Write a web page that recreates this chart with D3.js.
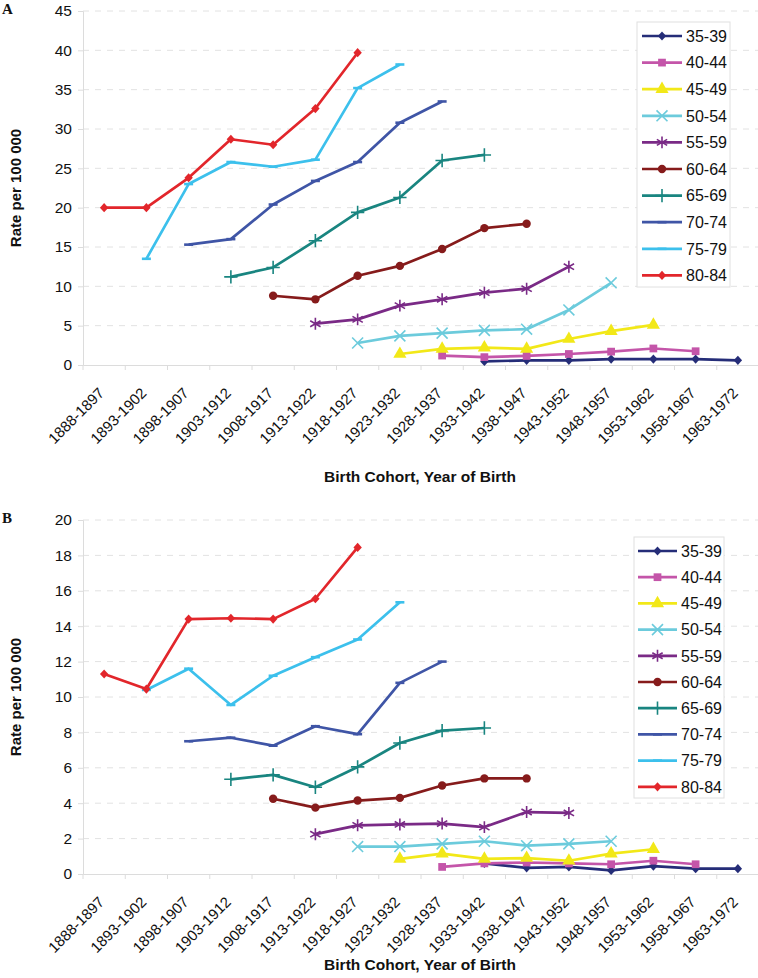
<!DOCTYPE html>
<html><head><meta charset="utf-8">
<script src="https://cdn.jsdelivr.net/npm/d3@7"></script>
<style>
body{margin:0;background:#fff;}
svg{display:block;font-family:"Liberation Sans",Arial,sans-serif;}
</style></head><body>
<svg id="chart" width="758" height="978"></svg>
<script>
const categories = ["1888-1897","1893-1902","1898-1907","1903-1912","1908-1917","1913-1922","1918-1927","1923-1932","1928-1937","1933-1942","1938-1947","1943-1952","1948-1957","1953-1962","1958-1967","1963-1972"];
const seriesNames = ["35-39","40-44","45-49","50-54","55-59","60-64","65-69","70-74","75-79","80-84"];
const seriesStart = [9,8,7,6,5,4,3,2,1,0];
const seriesColors = ["#252d78","#c455a9","#f2e818","#6ccbdc","#7a2a86","#861b1b","#198580","#3f55a6","#3cc0ec","#e2262b"];
const seriesMarkers = ["diamond","square","triangle","x","asterisk","circle","plus","dash","dash","diamond"];

// Panel A values (rate per 100 000), starting at seriesStart index
const a_35_39 = [0.45, 0.6, 0.6, 0.75, 0.75, 0.75, 0.6];
const a_40_44 = [1.2, 1.0, 1.15, 1.4, 1.7, 2.1, 1.75];
const a_45_49 = [1.4, 2.05, 2.2, 2.05, 3.3, 4.3, 5.1];
const a_50_54 = [2.8, 3.7, 4.05, 4.4, 4.55, 7.0, 10.45];
const a_55_59 = [5.25, 5.8, 7.55, 8.35, 9.2, 9.7, 12.5];
const a_60_64 = [8.8, 8.35, 11.35, 12.6, 14.75, 17.4, 17.95];
const a_65_69 = [11.2, 12.4, 15.8, 19.4, 21.3, 26.0, 26.7];
const a_70_74 = [15.3, 16.0, 20.4, 23.4, 25.8, 30.8, 33.5];
const a_75_79 = [13.5, 23.0, 25.8, 25.2, 26.1, 35.2, 38.2];
const a_80_84 = [20.0, 20.0, 23.8, 28.7, 28.0, 32.6, 39.7];

// Panel B values
const b_35_39 = [0.6, 0.35, 0.4, 0.2, 0.45, 0.3, 0.3];
const b_40_44 = [0.4, 0.6, 0.65, 0.6, 0.55, 0.75, 0.55];
const b_45_49 = [0.85, 1.15, 0.85, 0.9, 0.75, 1.15, 1.4];
const b_50_54 = [1.55, 1.55, 1.7, 1.85, 1.6, 1.7, 1.85];
const b_55_59 = [2.25, 2.75, 2.8, 2.85, 2.65, 3.5, 3.45];
const b_60_64 = [4.25, 3.75, 4.15, 4.3, 5.0, 5.4, 5.4];
const b_65_69 = [5.35, 5.6, 4.9, 6.05, 7.4, 8.1, 8.25];
const b_70_74 = [7.5, 7.7, 7.25, 8.35, 7.9, 10.8, 12.0];
const b_75_79 = [10.4, 11.6, 9.55, 11.2, 12.25, 13.25, 15.35];
const b_80_84 = [11.3, 10.45, 14.4, 14.45, 14.4, 15.55, 18.45];

const yTicksA = [0,5,10,15,20,25,30,35,40,45];
const yTicksB = [0,2,4,6,8,10,12,14,16,18,20];

const panelA = {label:"A", values:[a_35_39,a_40_44,a_45_49,a_50_54,a_55_59,a_60_64,a_65_69,a_70_74,a_75_79,a_80_84],
  yMax:45, yTicks:yTicksA, top:11, bottom:365, labelY:14, titleY:482, legend:{x:637,y:22,w:93,h:265,lx1:642,lx2:682,tx:686,iy:36,step:26.6}};
const panelB = {label:"B", values:[b_35_39,b_40_44,b_45_49,b_50_54,b_55_59,b_60_64,b_65_69,b_70_74,b_75_79,b_80_84],
  yMax:20, yTicks:yTicksB, top:520, bottom:874, labelY:523, titleY:970, legend:{x:634,y:537,w:90,h:261,lx1:638,lx2:677,tx:681,iy:551,step:26.2}};

const svg = d3.select("#chart");
const left = 83, right = 759;
const FONT = "Liberation Sans, Arial, sans-serif";

// custom symbol types
const symDiamond = {draw(ctx, s){ const h=4.6, w=4.2; ctx.moveTo(0,-h); ctx.lineTo(w,0); ctx.lineTo(0,h); ctx.lineTo(-w,0); ctx.closePath(); }};
const symDash = {draw(ctx, s){ ctx.moveTo(-4.5,0); ctx.lineTo(4.5,0); }};
function markerSpec(kind){
  switch(kind){
    case "diamond": return {type:symDiamond, size:1, fill:true};
    case "square": return {type:d3.symbolSquare, size:60, fill:true};
    case "triangle": return {type:d3.symbolTriangle, size:75, fill:true};
    case "circle": return {type:d3.symbolCircle, size:55, fill:true};
    case "x": return {type:d3.symbolX, size:80, fill:false};
    case "asterisk": return {type:d3.symbolAsterisk, size:100, fill:false};
    case "plus": return {type:d3.symbolPlus, size:60, fill:false};
    case "dash": return {type:symDash, size:1, fill:false};
  }
}
function drawMarker(g, kind, color, x, y){
  const m = markerSpec(kind);
  const p = g.append("path").attr("d", d3.symbol().type(m.type).size(m.size)()).attr("transform",`translate(${x},${y})`);
  if(m.fill) p.attr("fill",color).attr("stroke","none");
  else p.attr("fill","none").attr("stroke",color).attr("stroke-width", kind==="dash"?2.6:1.6);
}

function drawPanel(P){
  const g = svg.append("g");
  const x = d3.scaleBand().domain(categories).range([left,right]).paddingInner(0).paddingOuter(0);
  const y = d3.scaleLinear().domain([0,P.yMax]).range([P.bottom,P.top]);
  const cx = c => x(c) + x.bandwidth()/2;

  // gridlines
  g.append("g").selectAll("line").data(P.yTicks.filter(t=>t>0)).join("line")
    .attr("x1",left).attr("x2",right).attr("y1",d=>y(d)).attr("y2",d=>y(d))
    .attr("stroke","#e2e2e2").attr("stroke-width",1).attr("stroke-dasharray","6,6");

  // y axis
  const ya = g.append("g").attr("transform",`translate(${left},0)`).call(d3.axisLeft(y).tickValues(P.yTicks).tickSize(5).tickPadding(6));
  ya.select(".domain").attr("stroke","#dcdcdc");
  ya.selectAll(".tick line").attr("stroke","#dcdcdc");
  ya.selectAll(".tick text").attr("font-size","15.5px").attr("fill","#111").attr("font-family",FONT);

  // x axis
  const xa = g.append("g").attr("transform",`translate(0,${P.bottom})`).call(d3.axisBottom(x).tickSize(0).tickSizeOuter(0));
  xa.select(".domain").attr("stroke","#dcdcdc");
  xa.selectAll(".tick text").attr("font-size","15px").attr("fill","#111").attr("font-family",FONT)
    .attr("text-anchor","end").attr("dy",null).attr("y",null)
    .attr("transform","translate(1,29) rotate(-45)");
  // boundary ticks
  g.append("g").selectAll("line").data(d3.range(categories.length+1)).join("line")
    .attr("x1",i=>left+i*x.step()).attr("x2",i=>left+i*x.step())
    .attr("y1",P.bottom).attr("y2",P.bottom+5).attr("stroke","#dcdcdc");

  // series
  P.values.forEach((vals,si)=>{
    const pts = vals.map((v,k)=>({c:categories[seriesStart[si]+k], v}));
    const color = seriesColors[si];
    g.append("path").datum(pts)
      .attr("d", d3.line().x(d=>cx(d.c)).y(d=>y(d.v)))
      .attr("fill","none").attr("stroke",color).attr("stroke-width",2.7).attr("stroke-linejoin","round");
    pts.forEach(d=>drawMarker(g, seriesMarkers[si], color, cx(d.c), y(d.v)));
  });

  // legend
  const L = P.legend;
  g.append("rect").attr("x",L.x).attr("y",L.y).attr("width",L.w).attr("height",L.h)
    .attr("fill","#fff").attr("stroke","#e0e0e0");
  seriesNames.forEach((n,si)=>{
    const yy = L.iy + si*L.step;
    g.append("line").attr("x1",L.lx1).attr("x2",L.lx2).attr("y1",yy).attr("y2",yy)
      .attr("stroke",seriesColors[si]).attr("stroke-width",2.7);
    drawMarker(g, seriesMarkers[si], seriesColors[si], (L.lx1+L.lx2)/2, yy);
    g.append("text").attr("x",L.tx).attr("y",yy).attr("dy","0.36em").attr("font-size","16px").attr("font-family",FONT).attr("fill","#111").text(n);
  });

  // axis titles
  g.append("text").attr("x",420).attr("y",P.titleY).attr("text-anchor","middle").attr("font-family",FONT)
    .attr("font-size","15.5px").attr("font-weight","bold").attr("fill","#111").text("Birth Cohort, Year of Birth");
  g.append("text").attr("transform",`translate(21,${(P.top+P.bottom)/2}) rotate(-90)`).attr("text-anchor","middle").attr("font-family",FONT)
    .attr("font-size","15px").attr("font-weight","bold").attr("fill","#111").text("Rate per 100 000");

  // panel label
  svg.append("text").attr("x",2).attr("y",P.labelY).attr("font-family","Liberation Serif, Times New Roman, serif")
    .attr("font-size","15px").attr("font-weight","bold").attr("fill","#111").text(P.label);
}
drawPanel(panelA);
drawPanel(panelB);
</script></body></html>
